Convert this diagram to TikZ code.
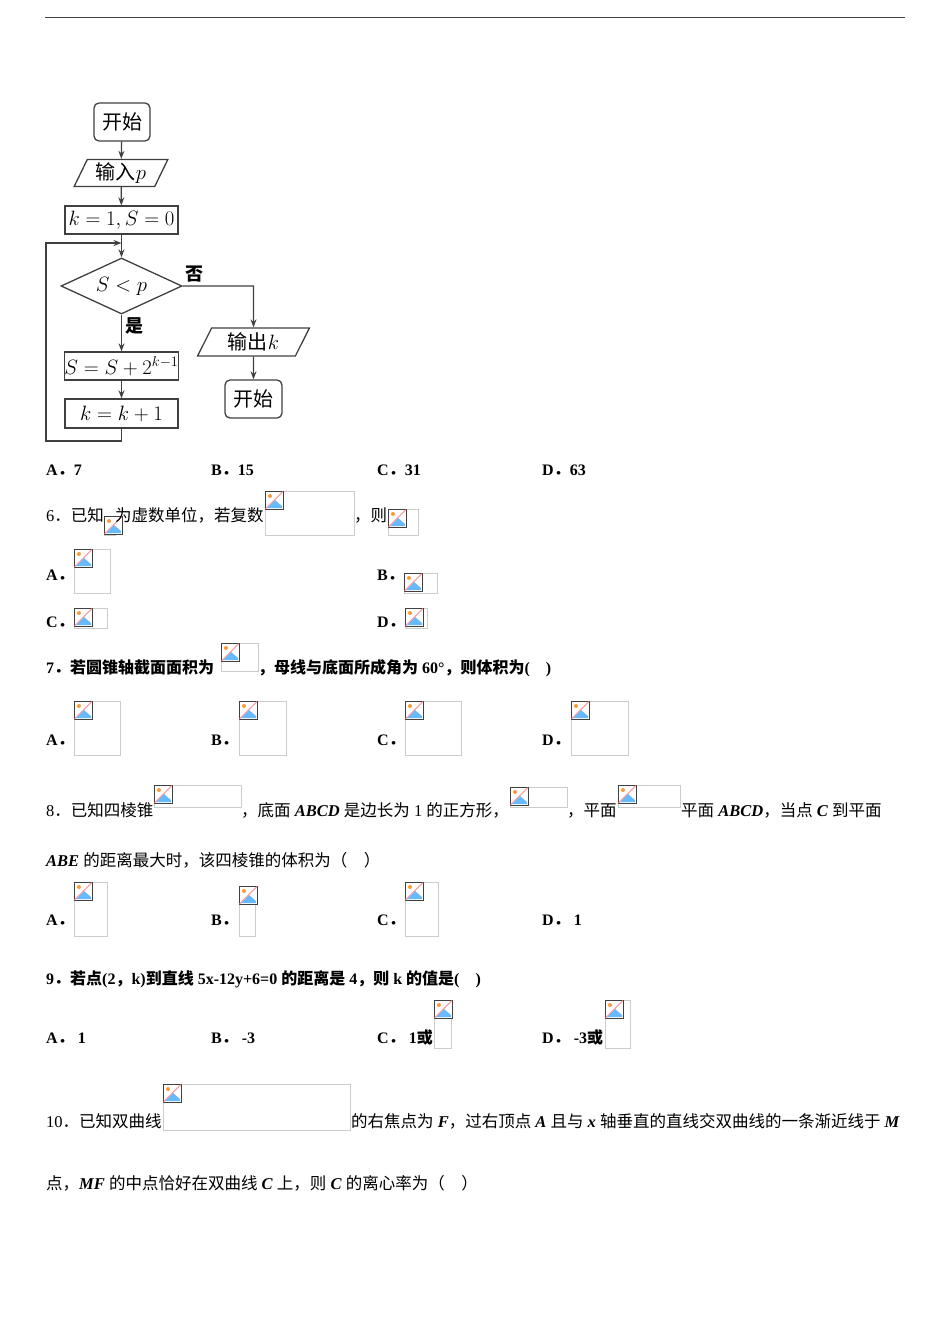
\documentclass[tikz,border=0pt]{standalone}
\usepackage{fontspec}
\setmainfont{Liberation Serif}
\newfontfamily\cjk{Noto Sans CJK SC}
\usetikzlibrary{shapes.geometric,arrows.meta}
\newcommand\zh[1]{{\cjk #1}}
\newcommand\imgph[4]{%
  \draw[black!20,line width=0.8pt] (#1,#2) rectangle (#3,#4);
  \begin{scope}[shift={(#1,#2)}]
    \fill[white] (0.5,0.5) rectangle (18,18);
    \fill[blue!45!cyan!60] (2,17) -- (10,9) -- (17,15) -- (17,17) -- cycle;
    \fill[orange!80] (5,5) circle (2);
    \draw[black!75,line width=0.8pt] (0.5,0.5) rectangle (18,18);
    \draw[red!45,line width=1pt] (0.5,18) -- (18,0.5);
  \end{scope}}
\tikzset{
  txt/.style={anchor=base west,inner sep=0pt,font=\fontsize{16.5}{18}\selectfont},
  opt/.style={txt,font=\fontsize{16}{18}\selectfont\bfseries},
  fbox/.style={draw=black!75,line width=1.3pt,inner sep=0pt,font=\fontsize{20}{22}\selectfont},
  arr/.style={draw=black!75,line width=1.3pt,-{Stealth[length=8pt,width=6pt]}},
}
\begin{document}
\begin{tikzpicture}[x=1pt,y=-1pt]
\useasboundingbox (0,0) rectangle (950,1344);
\draw[black!75,line width=1pt] (45,17) -- (905,17);
% flowchart
\node[fbox,rounded corners=5pt,minimum width=56pt,minimum height=38pt] (st) at (122,122) {\zh{开始}};
\node[fbox,trapezium,trapezium left angle=65,trapezium right angle=115,minimum width=94pt,minimum height=27pt,trapezium stretches=true] (in) at (121,173) {\zh{输入}$p$};
\node[fbox,minimum width=113pt,minimum height=28pt] (init) at (121.5,220) {$k=1,S=0$};
\node[fbox,diamond,aspect=2.2,minimum width=121pt,minimum height=56pt] (dec) at (121.5,286) {$S<p$};
\node[fbox,trapezium,trapezium left angle=65,trapezium right angle=115,minimum width=112pt,minimum height=28pt,trapezium stretches=true] (out) at (253.5,342) {\zh{输出}$k$};
\node[fbox,rounded corners=5pt,minimum width=57pt,minimum height=38pt] (en) at (253.5,399) {\zh{开始}};
\node[fbox,minimum width=113pt,minimum height=28pt] (sb) at (121.5,366) {$S=S+2^{k-1}$};
\node[fbox,minimum width=113pt,minimum height=29pt] (kb) at (121.5,413.5) {$k=k+1$};
\coordinate (lp) at (121.5,243);
\draw[arr] (st) -- (in);
\draw[arr] (in) -- (init);
\draw[arr] (init) -- (dec);
\draw[arr] (dec.south) -- node[right,pos=0.3,font=\fontsize{18}{18}\selectfont\bfseries]{\zh{是}} (sb);
\draw[arr] (sb) -- (kb);
\draw[arr] (dec.east) -- (253.5,286) -- (out.north);
\node[font=\fontsize{18}{18}\selectfont\bfseries] (no) at (194,274) {\zh{否}};
\draw[arr] (out) -- (en);
\draw[arr] (kb.south) -- (121.5,441) -- (46,441) -- (46,243) -- (lp);
% options Q5
\node[opt] (a5) at (46,475) {A\zh{．}7};
\node[opt] (b5) at (211,475) {B\zh{．}15};
\node[opt] (c5) at (377,475) {C\zh{．}31};
\node[opt] (d5) at (542,475) {D\zh{．}63};
% Q6
\node[txt] (q6a) at (46,521) {6\zh{．已知}};
\imgph{104}{516}{115}{535}
\node[txt] (q6b) at (115,521) {\zh{为虚数单位，若复数}};
\imgph{265}{491}{354}{535}
\node[txt] (q6c) at (354,521) {\zh{，则}};
\imgph{388}{509}{418}{535}
\node[opt] (a6) at (46,580) {A\zh{．}};
\imgph{74}{549}{110}{593}
\node[opt] (b6) at (377,580) {B\zh{．}};
\imgph{404}{573}{437}{593}
\node[opt] (c6) at (46,627) {C\zh{．}};
\imgph{74}{608}{107}{628}
\node[opt] (d6) at (377,627) {D\zh{．}};
\imgph{405}{608}{427}{628}
% Q7
\node[opt] (q7a) at (46,673) {7\zh{．若圆锥轴截面面积为}};
\imgph{221}{643}{258}{671}
\node[opt] (q7b) at (258,673) {\zh{，母线与底面所成角为} 60°\zh{，则体积为}(\quad)};
\node[opt] (a7) at (46,745) {A\zh{．}};
\imgph{74}{701}{120}{755}
\node[opt] (b7) at (211,745) {B\zh{．}};
\imgph{239}{701}{286}{755}
\node[opt] (c7) at (377,745) {C\zh{．}};
\imgph{405}{701}{461}{755}
\node[opt] (d7) at (542,745) {D\zh{．}};
\imgph{571}{701}{628}{755}
% Q8
\node[txt] (q8a) at (46,816) {8\zh{．已知四棱锥}};
\imgph{154}{785}{241}{807}
\node[txt] (q8b) at (241,816) {\zh{，底面} \textbf{\textit{ABCD}} \zh{是边长为} 1 \zh{的正方形，}};
\imgph{510}{787}{567}{807}
\node[txt] (q8c) at (567,816) {\zh{，平面}};
\imgph{618}{785}{680}{807}
\node[txt] (q8d) at (681,816) {\zh{平面} \textbf{\textit{ABCD}}\zh{，当点} \textbf{\textit{C}} \zh{到平面}};
\node[txt] (q8e) at (46,866) {\textbf{\textit{ABE}} \zh{的距离最大时，该四棱锥的体积为（\quad ）}};
\node[opt] (a8) at (46,925) {A\zh{．}};
\imgph{74}{882}{107}{936}
\node[opt] (b8) at (211,925) {B\zh{．}};
\imgph{239}{886}{255}{936}
\node[opt] (c8) at (377,925) {C\zh{．}};
\imgph{405}{882}{438}{936}
\node[opt] (d8) at (542,925) {D\zh{．} 1};
% Q9
\node[opt] (q9) at (46,984) {9\zh{．若点}(2\zh{，}k)\zh{到直线} 5x-12y+6=0 \zh{的距离是} 4\zh{，则} k \zh{的值是}(\quad)};
\node[opt] (a9) at (46,1043) {A\zh{．} 1};
\node[opt] (b9) at (211,1043) {B\zh{．} -3};
\node[opt] (c9) at (377,1043) {C\zh{．} 1\zh{或}};
\imgph{434}{1000}{451}{1048}
\node[opt] (d9) at (542,1043) {D\zh{．} -3\zh{或}};
\imgph{605}{1000}{630}{1048}
% Q10
\node[txt] (q10a) at (46,1127) {10\zh{．已知双曲线}};
\imgph{163}{1084}{350}{1130}
\node[txt] (q10b) at (351,1127) {\zh{的右焦点为} \textbf{\textit{F}}\zh{，过右顶点} \textbf{\textit{A}} \zh{且与} \textbf{\textit{x}} \zh{轴垂直的直线交双曲线的一条渐近线于} \textbf{\textit{M}}};
\node[txt] (q10c) at (46,1189) {\zh{点，}\textbf{\textit{MF}} \zh{的中点恰好在双曲线} \textbf{\textit{C}} \zh{上，则} \textbf{\textit{C}} \zh{的离心率为（\quad ）}};
\end{tikzpicture}
\end{document}
